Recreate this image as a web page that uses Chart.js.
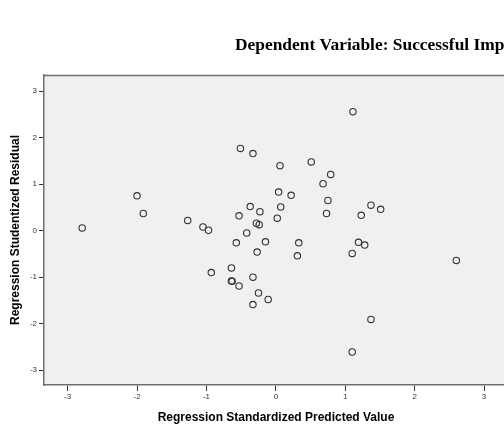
<!DOCTYPE html>
<html>
<head>
<meta charset="utf-8">
<script src="https://cdn.jsdelivr.net/npm/chart.js@4.4.1/dist/chart.umd.min.js"></script>
<style>
  html, body { margin: 0; padding: 0; background: #ffffff; overflow: hidden; }
  #wrap { width: 504px; height: 425px; overflow: hidden; position: relative; }
  canvas { display: block; }
</style>
</head>
<body>
<div id="wrap"><canvas id="c" width="512" height="425"></canvas></div>
<script>
// Regression Standardized Predicted Value
const predicted = [
  -2.79, -2.00, -1.91, -1.27, -1.05, -0.97, -0.93, -0.53, -0.42, -0.57,
  -0.64, -0.64, -0.63, -0.53, -0.51, -0.33, 0.06, 0.51, 1.11, 0.79,
  0.68, 0.04, 0.22, 0.75, 1.37, 1.51, -0.37, -0.23, 0.07, 0.73,
  1.23, 0.02, -0.28, -0.24, -0.15, 0.33, -0.27, 0.31, 1.19, 1.28,
  1.10, 2.60, -0.33, -0.25, -0.11, -0.33, 1.37, 1.10
];
// Regression Studentized Residual
const residual = [
  0.06, 0.75, 0.37, 0.22, 0.08, 0.01, -0.90, 0.32, -0.05, -0.26,
  -0.80, -1.08, -1.09, -1.19, 1.77, 1.66, 1.40, 1.48, 2.56, 1.21,
  1.01, 0.83, 0.76, 0.65, 0.55, 0.46, 0.52, 0.41, 0.51, 0.37,
  0.33, 0.27, 0.16, 0.13, -0.24, -0.26, -0.46, -0.54, -0.25, -0.31,
  -0.49, -0.64, -1.00, -1.34, -1.48, -1.59, -1.91, -2.61
];
const xTicks = [-3, -2, -1, 0, 1, 2, 3];
const yTicks = [-3, -2, -1, 0, 1, 2, 3];

const titleText = "Dependent Variable: Successful Implementation";
const xTitle = "Regression Standardized Predicted Value";
const yTitle = "Regression Studentized Residual";

const points = predicted.map((v, i) => ({ x: v, y: residual[i] }));

const decor = {
  id: 'decor',
  beforeDraw(chart) {
    const { ctx, chartArea: a } = chart;
    ctx.save();
    ctx.fillStyle = '#f0f0f0';
    ctx.fillRect(a.left, a.top, a.right - a.left, a.bottom - a.top);
    ctx.restore();
  },
  afterDraw(chart) {
    const { ctx, chartArea: a } = chart;
    ctx.save();
    ctx.strokeStyle = '#6e6e6e';
    ctx.lineWidth = 1.5;
    ctx.beginPath();
    ctx.moveTo(a.left, a.top + 0.5);
    ctx.lineTo(a.right, a.top + 0.5);
    ctx.lineTo(a.right, a.bottom);
    ctx.stroke();
    // title
    ctx.fillStyle = '#000';
    ctx.font = 'bold 17.4px "Liberation Serif", "Times New Roman", serif';
    ctx.textAlign = 'left';
    ctx.textBaseline = 'middle';
    ctx.fillText(titleText, 235, 46);
    // x title
    ctx.font = 'bold 12px "Liberation Sans", Arial, sans-serif';
    ctx.textAlign = 'center';
    ctx.fillText(xTitle, 276, 418);
    // y title
    ctx.translate(16, 230);
    ctx.rotate(-Math.PI / 2);
    ctx.fillText(yTitle, 0, 0);
    ctx.restore();
  }
};

new Chart(document.getElementById('c'), {
  type: 'scatter',
  data: {
    datasets: [{
      data: points,
      pointStyle: 'circle',
      pointRadius: 3.2,
      pointHoverRadius: 3.2,
      borderWidth: 1.1,
      borderColor: '#333333',
      backgroundColor: 'rgba(0,0,0,0)'
    }]
  },
  options: {
    responsive: false,
    animation: false,
    events: [],
    layout: { padding: { top: 75, right: 4, left: 0, bottom: 0 } },
    plugins: { legend: { display: false }, tooltip: { enabled: false }, title: { display: false } },
    scales: {
      x: {
        type: 'linear',
        min: -3.34, max: 3.34,
        afterFit(s) { s.height = 40; },
        afterBuildTicks(s) { s.ticks = xTicks.map(v => ({ value: v })); },
        border: { display: true, color: '#6e6e6e', width: 1.5 },
        grid: { display: true, drawOnChartArea: false, drawTicks: true, tickLength: 6, color: '#333', tickWidth: 1 },
        ticks: { color: '#333', padding: 1, font: { family: '"Liberation Sans", Arial, sans-serif', size: 8 }, maxRotation: 0, autoSkip: false }
      },
      y: {
        type: 'linear',
        min: -3.32, max: 3.35,
        afterFit(s) { s.width = 44; },
        afterBuildTicks(s) { s.ticks = yTicks.map(v => ({ value: v })); },
        border: { display: true, color: '#6e6e6e', width: 1.5 },
        grid: { display: true, drawOnChartArea: false, drawTicks: true, tickLength: 5, color: '#333', tickWidth: 1 },
        ticks: { color: '#333', padding: 2, font: { family: '"Liberation Sans", Arial, sans-serif', size: 8 }, autoSkip: false }
      }
    }
  },
  plugins: [decor]
});
</script>
</body>
</html>
